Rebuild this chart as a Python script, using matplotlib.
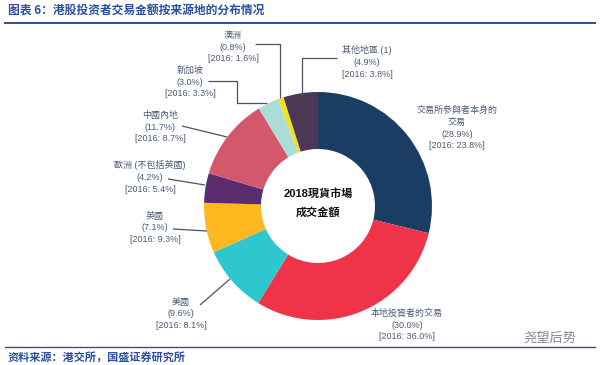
import matplotlib
matplotlib.use("Agg")
import matplotlib.pyplot as plt
from matplotlib.lines import Line2D

plt.rcParams['font.family'] = ['Liberation Sans', 'Noto Sans CJK TC', 'DejaVu Sans']

# ---- data ----
categories = ["交易所參與者本身的\n交易", "本地投資者的交易", "美國", "英國",
              "歐洲 (不包括英國)", "中國內地", "新加坡", "澳洲", "其他地區 (1)"]
share_2018 = [28.9, 30.0, 9.6, 7.1, 4.2, 11.7, 3.0, 0.8, 4.9]
share_2016 = [23.8, 36.0, 8.1, 9.3, 5.4, 8.7, 3.3, 1.6, 3.8]
colors = ["#1b3d63", "#ef3449", "#2ec7cf", "#fdb71f", "#5b2c6f",
          "#d4586c", "#a9ddd6", "#f3e01c", "#4e3656"]
title = "图表 6：港股投资者交易金额按来源地的分布情况"
source = "资料来源：港交所，国盛证券研究所"
center_text = "2018現貨市場\n成交金額"

W, H = 600, 365
fig = plt.figure(figsize=(W / 100, H / 100), dpi=100)
ax = fig.add_axes([0, 0, 1, 1])

def Y(y):
    return H - y

cx, cy, R = 318, 206, 114
ax.pie(share_2018, colors=colors, startangle=90, counterclock=False,
       center=(cx, Y(cy)), radius=R, frame=True,
       wedgeprops=dict(width=R * 0.5, linewidth=0))
ax.set_xlim(0, W)
ax.set_ylim(0, H)
ax.set_aspect("auto")
ax.axis("off")

ax.text(cx, Y(203), center_text, ha="center", va="center", fontsize=8,
        fontweight="bold", color="#111111", linespacing=1.9)

lab_color = "#4d5a78"
line_color = "#4a5264"
# label positions (pixel coords of text center) per category
label_pos = [(457, 128), (407, 325), (181, 314), (155, 228), (150, 177),
             (160, 127), (190, 82), (233, 47), (367, 62)]
for name, v18, v16, (lx, ly) in zip(categories, share_2018, share_2016, label_pos):
    txt = f"{name}\n({v18:.1f}%)\n[2016: {v16:.1f}%]"
    ax.text(lx, Y(ly), txt, ha="center", va="center", fontsize=6.5,
            color=lab_color, linespacing=1.4)

connectors = [
    [(255, 44), (280, 44), (280, 98)],
    [(208, 81), (237, 81), (237, 103), (267, 103)],
    [(182, 126), (227, 137)],
    [(168, 179), (205, 185)],
    [(173, 229), (207, 231)],
    [(200, 305), (230, 279)],
    [(337, 58), (302, 58), (302, 96)],
]
for pts in connectors:
    xs = [p[0] for p in pts]
    ys = [Y(p[1]) for p in pts]
    ax.plot(xs, ys, color=line_color, lw=0.9, solid_capstyle="butt")

blue = "#2c4f9e"
ax.text(8, Y(11), title, ha="left", va="center", fontsize=8.5,
        fontweight="bold", color=blue, family=['Noto Sans CJK SC', 'DejaVu Sans'])
fig.add_artist(Line2D([5 / W, 595 / W], [Y(23) / H, Y(23) / H], color="#33518f", lw=1.4))
fig.add_artist(Line2D([5 / W, 595 / W], [Y(347) / H, Y(347) / H], color="#33518f", lw=1.0))
ax.text(8, Y(357), source, ha="left", va="center", fontsize=8,
        fontweight="bold", color=blue, family=['Noto Sans CJK SC', 'DejaVu Sans'])
ax.text(550, Y(338), "尧望后势", ha="center", va="center", fontsize=9.5,
        color="#8a8a8a", family=['Noto Sans CJK SC', 'DejaVu Sans'])

fig.savefig("out.png", dpi=100)
